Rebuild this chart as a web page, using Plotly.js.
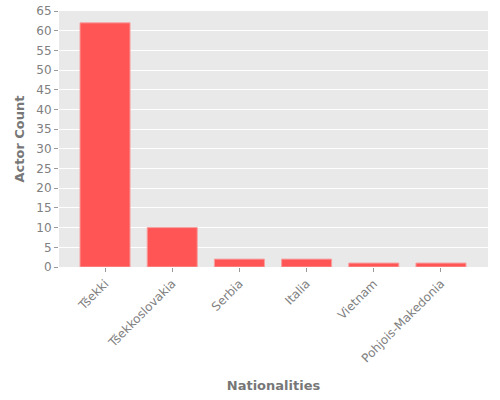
<!DOCTYPE html>
<html>
<head>
<meta charset="utf-8">
<script src="https://cdn.plot.ly/plotly-3.0.1.min.js"></script>
<style>html,body{margin:0;padding:0;background:#fff;}#chart{width:500px;height:400px;}</style>
</head>
<body>
<div id="chart"></div>
<script>
const categories = ["Tšekki", "Tšekkoslovakia", "Serbia", "Italia", "Vietnam", "Pohjois-Makedonia"];
const actorCounts = [62, 10, 2, 2, 1, 1];
const yTickValues = [0, 5, 10, 15, 20, 25, 30, 35, 40, 45, 50, 55, 60, 65];

const trace = {
  type: 'bar',
  x: categories.map((c, i) => i),
  y: actorCounts,
  width: 0.745,
  marker: {color: '#ff5555', line: {color: '#f7a0a0', width: 1}},
  hoverinfo: 'none'
};

const layout = {
  width: 500, height: 400,
  margin: {l: 59, r: 12, t: 11, b: 133},
  paper_bgcolor: '#ffffff',
  plot_bgcolor: '#e9e9e9',
  font: {family: 'DejaVu Sans', color: '#808080', size: 12},
  showlegend: false,
  xaxis: {
    range: [-0.685, 5.7],
    tickmode: 'array',
    tickvals: categories.map((c, i) => i),
    ticktext: categories,
    tickangle: -45,
    ticks: 'outside', ticklen: 4, tickcolor: '#999', tickwidth: 1,
    showgrid: false, zeroline: false, showline: false,
    tickfont: {size: 12, color: '#808080'},
    title: {text: 'Nationalities', font: {size: 13, color: '#777', weight: 'bold'}, standoff: 16},
    automargin: false
  },
  yaxis: {
    range: [0, 65],
    tickmode: 'array',
    tickvals: yTickValues,
    ticks: 'outside', ticklen: 4, tickcolor: '#999', tickwidth: 1,
    showgrid: true, gridcolor: '#ffffff', gridwidth: 1,
    zeroline: false, showline: false,
    tickfont: {size: 12, color: '#808080'},
    title: {text: 'Actor Count', font: {size: 13, color: '#777', weight: 'bold'}, standoff: 8},
    automargin: false
  }
};

Plotly.newPlot('chart', [trace], layout, {staticPlot: true, displayModeBar: false});
</script>
</body>
</html>
